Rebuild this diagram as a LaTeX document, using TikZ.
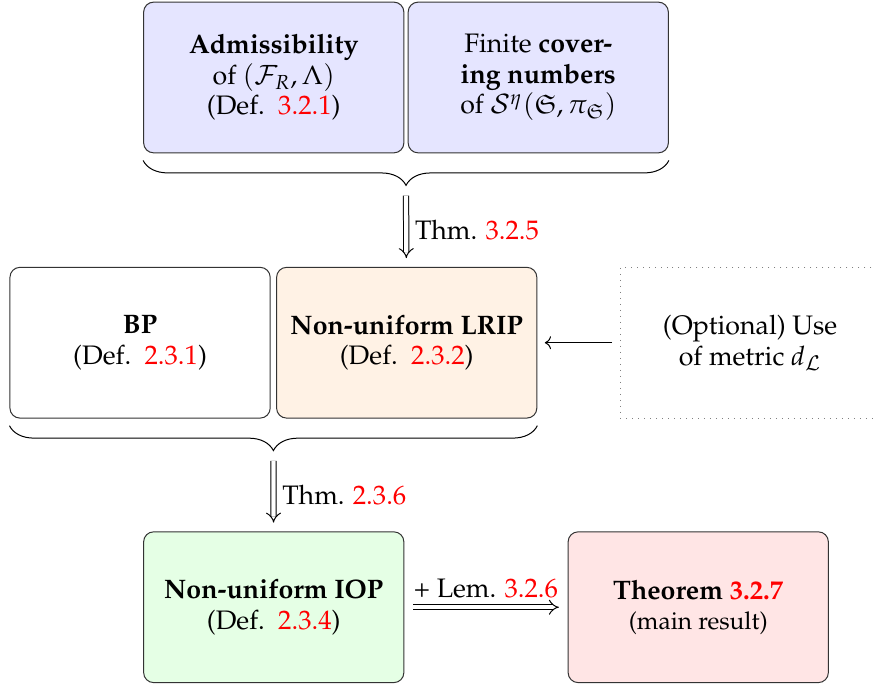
\documentclass[tikz,border=0pt]{standalone}
\usepackage[T1]{fontenc}
\usepackage{amsmath}
\usepackage{amsfonts}
\usepackage{amssymb}
\usepackage{mathpazo}
\usepackage{xcolor}
\usepackage{tikz}
\usetikzlibrary{shapes,arrows,arrows.meta,positioning,decorations.pathreplacing}

\newcommand{\defref}[1]{(Def.\hspace{0.5em}\textcolor{red}{#1})}

\begin{document}
\begin{tikzpicture}[
        font=\fontsize{10.7pt}{12.2pt}\selectfont,
        box/.style={rectangle, rounded corners=4pt, draw=black!80, minimum width=3.66cm, minimum height=2.12cm, align=center},
        cond/.style={box, fill=blue!10},
        prop/.style={box, fill=white},
        lrip/.style={box, fill=orange!10},
        iop/.style={box, fill=green!10},
        result/.style={box, fill=red!10},
        optional/.style={box, draw=gray, dotted, rounded corners=0pt},
        brace/.style={decorate, decoration={brace, mirror, amplitude=0.35cm}},
        thmarrow/.style={double, double equal sign distance, -Implies, shorten <=1pt, shorten >=3.5pt},
        arrow/.style={->, shorten <=3pt, shorten >=3pt}
    ]
        \useasboundingbox (0,0) rectangle (12.32,-9.65);

        % Conditions on the model
        \node[cond] (admiss) at (3.85,-1.09) {\textbf{Admissibility}\\of $(\mathcal{F}_R,\Lambda)$\\\defref{3.2.1}};
        \node[cond] (cover) at (7.57,-1.09) {Finite \textbf{cover-}\\\textbf{ing numbers}\\of $\mathcal{S}^\eta(\mathfrak{S},\pi_{\mathfrak{S}})$};

        % Properties
        \node[prop] (bp) at (1.97,-4.82) {\textbf{BP}\\\defref{2.3.1}};
        \node[lrip] (lrip) at (5.72,-4.82) {\textbf{Non-uniform LRIP}\\\defref{2.3.2}};
        \node[optional] (metric) at (10.55,-4.82) {(Optional) Use\\of metric $d_{\mathcal{L}}$};

        % Results
        \node[iop] (iop) at (3.85,-8.54) {\textbf{Non-uniform IOP}\\\defref{2.3.4}};
        \node[result] (main) at (9.82,-8.54) {\textbf{Theorem \textcolor{red}{3.2.7}}\\{\fontsize{9.8pt}{12pt}\selectfont (main result)}};

        % Braces
        \draw[brace] ([yshift=-0.1cm]admiss.south west) -- ([yshift=-0.1cm]cover.south east)
            coordinate[midway, yshift=-0.46cm] (toptip);
        \draw[brace] ([yshift=-0.1cm]bp.south west) -- ([yshift=-0.1cm]lrip.south east)
            coordinate[midway, yshift=-0.46cm] (midtip);

        % Connections
        \draw[thmarrow] (toptip) -- (lrip) node[midway, right] {Thm. \textcolor{red}{3.2.5}};
        \draw[thmarrow] (midtip) -- (iop) node[midway, right] {Thm. \textcolor{red}{2.3.6}};
        \draw[thmarrow, shorten <=3.5pt] (iop) -- (main) node[midway, above] {+ Lem. \textcolor{red}{3.2.6}};
        \draw[arrow] (metric) -- (lrip);
    \end{tikzpicture}
\end{document}
